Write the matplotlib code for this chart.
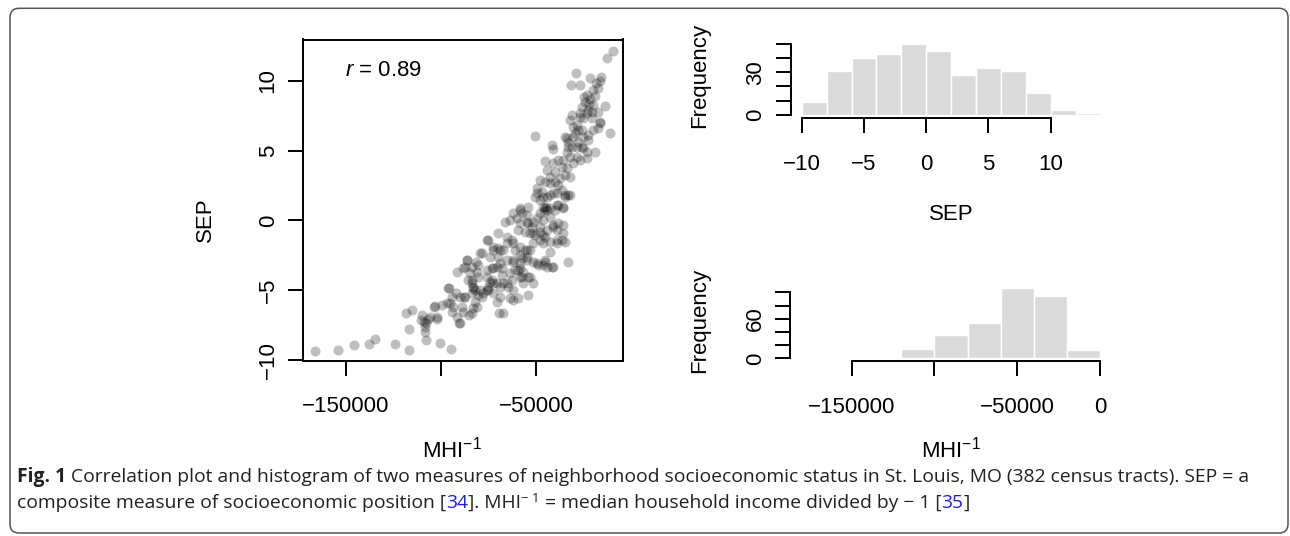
import matplotlib
matplotlib.use("Agg")
import matplotlib.pyplot as plt
from matplotlib.patches import FancyBboxPatch
from matplotlib.transforms import IdentityTransform
import numpy as np

# ---------------- data ----------------
# scatter: MHI^-1 (dollars) and SEP
mhi = [
 -166200,-153900,-145700,-137600,-134500,-124100,-116900,-107800,-100500,-94500,
 -116600,-108400,-108200,-118300,-115000,-110100,-110600,-108900,-106600,-107800,
 -101900,-103300,-99600,-95700,-94300,-95200,-93500,-94300,-90300,-92100,
 -87700,-88500,-85100,-83000,-81200,-82100,-70300,-69300,-83800,-83000,
 -79400,-78500,-75100,-73300,-70700,
 -103600,-102200,-105700,-96900,-91700,-90000,-89100,-83800,-67200,-61900,-59300,-63700,-54000,
 -91400,-87300,-86100,-81500,-80300,-81200,-83800,-82100,-80300,-78500,
 -75100,-69800,-72400,-69800,-67200,-73300,-70700,-65400,-75900,-74200,
 -75900,-72400,-68900,-68000,-67200,-64600,-62800,-63700,-61000,-58400,
 -57500,-56700,-54000,-51400,
 -66300,-63700,-60100,-57500,-54900,-59300,-55800,-53100,-52300,
 -61000,-58400,-55800,-54900,-53100,-57500,-51400,
 -47900,-45300,-42600,-39100,-36500,-35600,-40900,-38300,-35600,
 -48800,-45300,-44400,-40900,-33000,
 -47900,-44400,-46200,-42600,-40000,-38300,-35600,
 -49600,-46200,-42600,-39100,-34700,-33000,
 -45300,-44700,-45800,
 -65400,-62800,-50500,-47900,-62100,-68900,
 -50500,-41700,-41200,-45300,-11100,-16300,-17200,-19900,-19000,-23300,
 -26900,-31200,-26900,-23300,-20700,-28600,-26000,-29500,-25100,-22500,
 -34700,-33000,-31200,-33900,-32100,-35600,-28600,-25100,-23300,
 -40900,-38300,-36500,-33900,-44400,-42600,-40000,-37400,-34700,-32100,
 -47900,-45300,-42600,-40000,-38300,-49600,-47000,-50500,-47900,-44400,
 -40900,-36500,-34700,-32100,-46200,-42600,-39100,-35600,-58400,-54000,
 -9300,-12500,-29000,-31600,-26900,-21600,-15800,-18400,-16300,-17400,
 -20000,-23300,-24200,-26000,-22500,-19900,-17200,-13700,-26900,-25100,
 -20700,-16300,-32100,-30400,-27700,-30400,-33900,-33000,-27700,-26000,
 -22500,-30400,-28600,-21600,-24800,-19000,-22100,
 -61900,-58400,-54900,-58400,-54000,-51400,-49600,-47900,-51400,-46200,
 -44400,-39100,-39100,-34700,-40900,-75900,-72400,-68900,-65400,-61900,
 -58400,-54900,-51400,-46200,-42600,-45300,-49600,-46200,-41700,-79400,
 -74200,-69800,-61900,-58400,-54900,-86400,-83800,-84700,-80300,-75900,
 -72400,-68000,-59300,-56700,-53100,-58400,-88200,-85600,-83000,-83800,
 -77700,-75100,-72400,-68900,-65400,-61900,-96100,-90000,-87300,
]
sep = [
 -9.34,-9.31,-8.95,-8.86,-8.52,-8.86,-9.26,-8.59,-8.76,-9.24,
 -7.80,-7.98,-7.62,-6.62,-6.42,-6.78,-7.14,-7.26,-7.09,-7.37,
 -7.09,-6.14,-6.06,-4.87,-5.47,-5.94,-6.19,-6.54,-7.33,-5.18,
 -5.51,-6.54,-6.78,-6.30,-6.19,-5.83,-5.83,-6.62,-4.51,-4.87,
 -4.99,-5.47,-4.75,-4.27,-4.51,
 -6.19,-6.90,-6.90,-5.94,-6.90,-7.37,-6.19,-6.66,-6.66,-5.71,-5.58,-5.58,-5.35,
 -3.68,-3.37,-2.84,-2.96,-3.20,-3.68,-4.27,-4.99,-5.35,-2.36,
 -1.41,-0.93,-2.13,-2.00,-2.13,-3.44,-3.32,-2.84,-4.04,-4.40,
 -4.99,-5.23,-5.47,-3.92,-4.51,-4.75,-4.27,-3.79,-3.56,-3.44,
 -4.04,-4.51,-4.04,-4.51,
 -0.10,0.02,0.14,0.50,-0.10,-0.69,-0.82,-0.93,-0.46,
 -2.13,-2.48,-2.13,-2.61,-2.13,-2.72,-2.96,
 -1.41,-1.17,-1.53,-1.65,-1.41,-0.93,-0.46,-0.21,-0.34,
 -3.20,-2.96,-3.32,-3.32,-2.96,
 0.50,0.74,0.02,0.26,0.74,1.10,0.86,
 1.93,1.69,1.81,1.93,1.69,1.81,
 0.86,0.95,0.67,
 -1.17,-1.41,-1.05,-0.82,-2.99,-3.06,
 6.04,5.39,5.08,4.27,6.23,6.95,6.59,6.47,4.91,4.44,
 4.32,7.54,7.42,7.66,7.78,6.82,6.47,6.23,5.99,6.11,
 5.99,5.63,5.27,4.91,4.55,4.32,5.27,5.16,4.91,
 4.08,4.32,3.84,3.72,3.60,3.12,3.48,3.01,3.24,3.12,
 2.89,2.76,2.65,2.76,2.53,2.29,2.05,1.69,1.45,1.69,
 1.93,2.17,1.81,1.81,0.97,0.86,1.10,0.97,0.86,0.97,
 12.10,11.62,10.53,9.69,9.71,10.22,10.26,9.81,9.97,9.45,
 9.33,8.97,8.49,8.13,7.90,8.26,7.78,8.18,7.66,7.30,
 7.30,7.06,7.18,6.70,6.47,5.99,5.87,5.27,5.63,5.27,
 5.75,4.08,4.55,8.69,8.83,8.90,8.33,
 0.50,0.74,0.38,-0.21,-0.21,-0.10,0.14,-0.46,-0.93,-1.05,
 -0.69,-0.69,-1.41,-1.53,-0.34,-1.41,-1.89,-2.13,-1.65,-1.65,
 -1.89,-2.13,-1.65,-1.65,-2.25,-2.84,-3.08,-3.20,-3.32,-2.36,
 -2.61,-2.61,-2.84,-3.08,-2.84,-2.84,-3.32,-3.79,-4.04,-3.56,
 -3.44,-3.44,-3.56,-3.68,-4.04,-4.04,-3.44,-4.27,-4.75,-5.23,
 -5.23,-4.99,-4.51,-4.75,-4.51,-4.99,-4.87,-5.47,-5.47,
]
r_value = "0.89"

# histogram of SEP
sep_breaks = [-10, -8, -6, -4, -2, 0, 2, 4, 6, 8, 10, 12, 14]
sep_counts = [9, 31, 40, 43, 50, 45, 28, 33, 31, 15, 3, 1]
# histogram of MHI^-1
mhi_breaks = [-180000, -160000, -140000, -120000, -100000, -80000, -60000, -40000, -20000, 0]
mhi_counts = [1, 0, 0, 14, 36, 53, 107, 94, 13]

scatter_xticks = [-150000, -100000, -50000]
scatter_xlabels = ["\u2212150000", "", "\u221250000"]
scatter_yticks = [-10, -5, 0, 5, 10]
scatter_ylabels = ["\u221210", "\u22125", "0", "5", "10"]
sep_xticks = [-10, -5, 0, 5, 10]
sep_xlabels = ["\u221210", "\u22125", "0", "5", "10"]
sep_yticks = [0, 10, 20, 30, 40, 50]
sep_ylabels = ["0", "", "", "30", "", ""]
mhi_xticks = [-150000, -100000, -50000, 0]
mhi_xlabels = ["\u2212150000", "", "\u221250000", "0"]
mhi_yticks = [0, 20, 40, 60, 80, 100]
mhi_ylabels = ["0", "", "", "60", "", ""]

# ---------------- style ----------------
plt.rcParams["font.family"] = ["Liberation Sans", "DejaVu Sans"]
plt.rcParams["mathtext.fontset"] = "custom"
plt.rcParams["mathtext.rm"] = "Liberation Sans"
plt.rcParams["mathtext.it"] = "Liberation Sans:italic"
plt.rcParams["mathtext.default"] = "regular"

W, H = 1290, 536
fig = plt.figure(figsize=(W / 100, H / 100), dpi=100)
FS = 16
LW = 1.4
TL = 10.5

def px_axes(l, t, r, b):
    return fig.add_axes([l / W, 1 - b / H, (r - l) / W, (b - t) / H])

def ftext(x, y, s, **kw):
    return fig.text(x / W, 1 - y / H, s, **kw)

# ---------------- scatter ----------------
ax = px_axes(303, 39.5, 623, 361)
ax.scatter(mhi, sep, s=52, color="black", alpha=0.25, linewidths=0)
ax.set_xlim(-172500, -4250)
ax.set_ylim(-10.07, 12.95)
ax.set_xticks(scatter_xticks)
ax.set_xticklabels(scatter_xlabels, fontsize=FS)
ax.set_yticks(scatter_yticks)
ax.set_yticklabels(scatter_ylabels, fontsize=FS, rotation=90, va="center")
ax.tick_params(axis="x", length=TL, width=LW, pad=15)
ax.tick_params(axis="y", length=TL, width=LW, pad=7)
for sp in ax.spines.values():
    sp.set_linewidth(LW)
ax.text(-150400, 10.76, r"$\mathit{r}$ = " + r_value, fontsize=FS, va="center", ha="left")

# ---------------- SEP histogram ----------------
ah = px_axes(790.5, 38.9, 1112.5, 118.4)
ah.bar(sep_breaks[:-1], sep_counts, width=np.diff(sep_breaks), align="edge",
       color="#dadada", edgecolor="white", linewidth=1.0)
ah.set_xlim(-10.9, 14.96)
ah.set_ylim(-2.6, 53.5)
ah.set_xticks(sep_xticks)
ah.set_xticklabels(sep_xlabels, fontsize=FS)
ah.set_yticks(sep_yticks)
ah.set_yticklabels(sep_ylabels, fontsize=FS, rotation=90, va="center")

# ---------------- MHI histogram ----------------
am = px_axes(790.1, 285.0, 1112.0, 361.2)
am.bar(mhi_breaks[:-1], mhi_counts, width=np.diff(mhi_breaks), align="edge",
       color="#dadada", edgecolor="white", linewidth=1.0)
am.set_xlim(-187200, 7200)
am.set_ylim(-4.28, 111.28)
am.set_xticks(mhi_xticks)
am.set_xticklabels(mhi_xlabels, fontsize=FS)
am.set_yticks(mhi_yticks)
am.set_yticklabels(mhi_ylabels, fontsize=FS, rotation=90, va="center")

for a, xb, yb in ((ah, (-10, 10), (0, 50)), (am, (-150000, 0), (0, 100))):
    a.spines["top"].set_visible(False)
    a.spines["right"].set_visible(False)
    a.spines["left"].set_bounds(*yb)
    a.spines["bottom"].set_bounds(*xb)
    a.spines["left"].set_linewidth(LW)
    a.spines["bottom"].set_linewidth(LW)
    a.tick_params(axis="x", length=TL, width=LW, pad=15)
    a.tick_params(axis="y", length=TL, width=LW, pad=7)

# ---------------- axis titles ----------------
ftext(205, 220, "SEP", fontsize=FS, rotation=90, ha="center", va="center")
ftext(452, 450, r"MHI$^{-1}$", fontsize=FS, ha="center", va="center")
ftext(700, 75, "Frequency", fontsize=FS, rotation=90, ha="center", va="center")
ftext(951, 215, "SEP", fontsize=FS, ha="center", va="center")
ftext(700, 320, "Frequency", fontsize=FS, rotation=90, ha="center", va="center")
ftext(951, 450, r"MHI$^{-1}$", fontsize=FS, ha="center", va="center")

# ---------------- border ----------------
border = FancyBboxPatch((10, 3), 1278, 524.7, boxstyle="round,pad=0,rounding_size=9",
                        transform=IdentityTransform(), facecolor="none",
                        edgecolor="#555555", linewidth=1.1)
fig.patches.append(border)

# ---------------- caption ----------------
cap_font = ["Open Sans", "DejaVu Sans"]
cap_col = "#231f20"
blue = "#1a1aff"
renderer = fig.canvas.get_renderer()

line1 = [("Fig. 1", dict(weight="bold")),
         (" Correlation plot and histogram of two measures of neighborhood socioeconomic status in St. Louis, MO (382 census tracts). SEP = a", {})]
line2 = [("composite measure of socioeconomic position [", {}), ("34", dict(color=blue)),
         ("]. MHI", {}), ("\u2212 1", dict(sup=True)),
         (" = median household income divided by \u2212 1 [", {}), ("35", dict(color=blue)), ("]", {})]

def draw_segs(segs, x0, y0, size, keep=True):
    x = x0
    made = []
    for txt, kw in segs:
        kw = dict(kw)
        sup = kw.pop("sup", False)
        fs = size * 0.68 if sup else size
        yy = y0 - size * 0.45 if sup else y0
        t = ftext(x, yy, txt, fontsize=fs, ha="left", va="baseline",
                  family=cap_font, color=kw.pop("color", cap_col), **kw)
        x += t.get_window_extent(renderer=renderer).width
        made.append(t)
    if not keep:
        for t in made:
            t.remove()
    return x - x0

w12 = draw_segs(line1, 17, 480, 12, keep=False)
cap_size = 12 * 1225 / w12
draw_segs(line1, 17, 482, cap_size)
draw_segs(line2, 17, 508, cap_size)

fig.savefig("out.png", dpi=100)
